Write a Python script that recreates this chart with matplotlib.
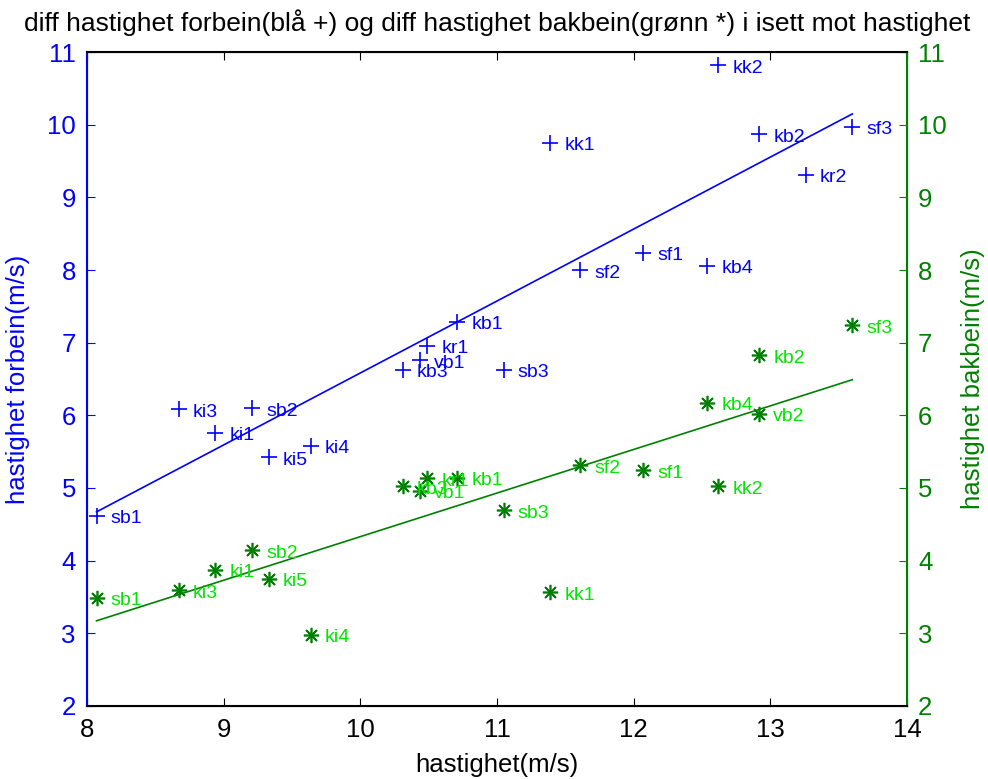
import numpy as np
import matplotlib.pyplot as plt

plt.rcParams['font.family'] = ['Liberation Sans', 'DejaVu Sans']

# hastighet (m/s)
fram_x = [8.07, 8.67, 8.94, 9.21, 9.33, 9.64, 10.31, 10.44, 10.49, 10.71,
          11.05, 11.39, 11.61, 12.07, 12.54, 12.62, 12.92, 13.26, 13.60]
fram_y = [4.62, 6.08, 5.76, 6.10, 5.42, 5.58, 6.63, 6.76, 6.96, 7.29,
          6.63, 9.75, 8.00, 8.24, 8.06, 10.82, 9.87, 9.31, 9.97]
fram_lab = ['sb1', 'ki3', 'ki1', 'sb2', 'ki5', 'ki4', 'kb3', 'vb1', 'kr1', 'kb1',
            'sb3', 'kk1', 'sf2', 'sf1', 'kb4', 'kk2', 'kb2', 'kr2', 'sf3']

bak_x = [8.07, 8.67, 8.94, 9.21, 9.33, 9.64, 10.31, 10.44, 10.49, 10.71,
         11.05, 11.39, 11.61, 12.07, 12.54, 12.62, 12.92, 12.92, 13.60]
bak_y = [3.49, 3.59, 3.87, 4.14, 3.75, 2.98, 5.02, 4.96, 5.13, 5.14,
         4.69, 3.56, 5.31, 5.24, 6.17, 5.02, 6.83, 6.02, 7.24]
bak_lab = ['sb1', 'ki3', 'ki1', 'sb2', 'ki5', 'ki4', 'kb3', 'vb1', 'kr1', 'kb1',
           'sb3', 'kk1', 'sf2', 'sf1', 'kb4', 'kk2', 'kb2', 'vb2', 'sf3']

# regression lines (end points)
fit_x = [8.07, 13.60]
fram_fit = [4.67, 10.15]
bak_fit = [3.17, 6.49]

blue = (0, 0, 1)
dgreen = (0, 0.5, 0)
lgreen = (0, 0.9, 0)

fig = plt.figure(figsize=(9.88, 7.79), dpi=100)
ax = fig.add_axes([0.088, 0.094, 0.830, 0.839])
ax2 = ax.twinx()

ax.plot(fram_x, fram_y, '+', color=blue, markersize=11, markeredgewidth=1.2)
ax.plot(fit_x, fram_fit, '-', color=blue, lw=1.2)
for x, y, s in zip(fram_x, fram_y, fram_lab):
    ax.annotate(s, (x, y), xytext=(14, -3), textcoords='offset pixels',
                color=blue, fontsize=14, va='center', ha='left')

ax2.plot(bak_x, bak_y, ls='none', marker=(8, 2, 0), color=dgreen,
         markersize=11, markeredgewidth=1.2)
ax2.plot(fit_x, bak_fit, '-', color=dgreen, lw=1.2)
for x, y, s in zip(bak_x, bak_y, bak_lab):
    ax2.annotate(s, (x, y), xytext=(14, -3), textcoords='offset pixels',
                 color=lgreen, fontsize=14, va='center', ha='left')

ax.set_xlim(8, 14)
ax.set_ylim(2, 11)
ax2.set_ylim(2, 11)
ax.set_xticks(range(8, 15))
ax.set_yticks(range(2, 12))
ax2.set_yticks(range(2, 12))

ax.tick_params(axis='x', direction='in', top=True, labelsize=18.5, length=6, colors='black')
ax.tick_params(axis='y', direction='in', labelsize=18.5, length=6, colors=blue)
ax2.tick_params(axis='y', direction='in', labelsize=18.5, length=6, colors=dgreen)
ax.tick_params(axis='x', pad=9)
ax.tick_params(axis='y', pad=8)
ax2.tick_params(axis='y', pad=8)

ax2.spines['left'].set_color(blue)
ax2.spines['right'].set_color(dgreen)
ax2.spines['left'].set_linewidth(1.5)
ax2.spines['right'].set_linewidth(1.5)
for sp in ['top', 'bottom']:
    ax2.spines[sp].set_linewidth(1.5)
    ax2.spines[sp].set_color('black')

ax.set_xlabel('hastighet(m/s)', fontsize=18.5, labelpad=8)
ax.set_ylabel('hastighet forbein(m/s)', fontsize=18.5, color=blue, labelpad=12)
ax2.set_ylabel('hastighet bakbein(m/s)', fontsize=18.5, color=dgreen, labelpad=10)
ax.set_title('diff hastighet forbein(blå +) og diff hastighet bakbein(grønn *) i isett mot hastighet',
             fontsize=19, pad=15)

fig.savefig('out.png', dpi=100)
